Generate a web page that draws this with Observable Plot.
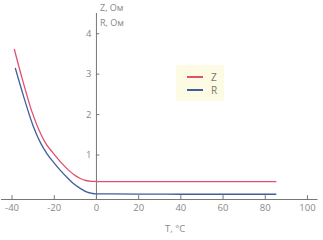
<!DOCTYPE html>
<html>
<head>
<meta charset="utf-8">
<script src="https://cdn.jsdelivr.net/npm/d3@7"></script>
<script src="https://cdn.jsdelivr.net/npm/@observablehq/plot@0.6"></script>
<style>
  html, body { margin: 0; padding: 0; background: #fff; }
  #wrap { position: relative; width: 323px; height: 240px; font-family: "Open Sans", sans-serif; }
  .lg { position: absolute; left: 176px; top: 65px; width: 48px; height: 36px; background: #fdfbe3; }
  .lg .row { position: absolute; left: 11px; height: 10px; display: flex; align-items: center; font-size: 10px; color: #777; }
  .lg .sw { width: 16px; height: 1.5px; margin-right: 8px; }
</style>
</head>
<body>
<div id="wrap"></div>
<script>
// Data
const seriesNames = ["Z", "R"];
const seriesColors = ["#e0506f", "#3f5f9a"];
const tempZ = [-38.9, -35.2, -30.5, -26.5, -24.2, -20.2, -16.5, -13.1, -10, -7.6, -5, -2.5, 0, 3, 20, 40, 60, 85];
const valZ  = [3.61, 2.89, 2.06, 1.53, 1.30, 1.03, 0.80, 0.62, 0.49, 0.42, 0.37, 0.35, 0.345, 0.34, 0.34, 0.34, 0.34, 0.34];
const tempR = [-38.4, -34.7, -30.0, -26.5, -23.4, -20, -17.1, -14, -10.8, -7.5, -4.4, -2, -0.5, 20, 40, 60, 85];
const valR  = [3.14, 2.48, 1.72, 1.30, 1.03, 0.80, 0.62, 0.45, 0.29, 0.17, 0.08, 0.05, 0.04, 0.035, 0.03, 0.03, 0.03];
const xTicks = [-40, -20, 0, 20, 40, 60, 80, 100];
const yTicks = [1, 2, 3, 4];
const yLabel1 = "Z, Ом";
const yLabel2 = "R, Ом";
const xLabel = "T, °C";

const rows = [
  ...tempZ.map((t, i) => ({s: "Z", t, v: valZ[i]})),
  ...tempR.map((t, i) => ({s: "R", t, v: valR[i]}))
];

const axisColor = "#777";
const textColor = "#888";

const chart = Plot.plot({
  width: 323,
  height: 240,
  marginLeft: 1,
  marginRight: 5.5,
  marginTop: 13,
  marginBottom: 41,
  x: {domain: [-45, 105], axis: null},
  y: {domain: [-0.1, 4.5], axis: null},
  color: {domain: seriesNames, range: seriesColors},
  style: {fontFamily: "Open Sans, sans-serif", fontSize: "9px", background: "transparent"},
  marks: [
    Plot.ruleY([-0.1], {x1: -45, x2: 105, stroke: axisColor, strokeWidth: 1}),
    Plot.ruleX([0], {y1: -0.1, y2: 4.5, stroke: axisColor, strokeWidth: 1}),
    Plot.ruleX(xTicks, {y1: -0.1, y2: -0.005, stroke: axisColor}),
    Plot.ruleY(yTicks, {x1: 0, x2: 1.6, stroke: axisColor}),
    Plot.text(xTicks, {x: d => d, y: -0.1, dy: 8, text: d => String(d), fill: textColor, fontSize: 9.5}),
    Plot.text(yTicks, {x: 0, y: d => d, dx: -5, textAnchor: "end", text: d => String(d), fill: textColor, fontSize: 9.5}),
    Plot.line(rows, {x: "t", y: "v", z: "s", stroke: "s", strokeWidth: 1.3, curve: "monotone-x"})
  ]
});

const wrap = document.getElementById("wrap");
wrap.appendChild(chart);

function addText(str, left, top, size) {
  const d = document.createElement("div");
  d.textContent = str;
  d.style.cssText = `position:absolute;left:${left}px;top:${top}px;font-size:${size}px;color:${textColor};line-height:1;white-space:nowrap;`;
  wrap.appendChild(d);
}
addText(yLabel1, 100, 3, 9);
addText(yLabel2, 100, 18, 9);
addText(xLabel, 165, 224, 9.5);

const lg = document.createElement("div");
lg.className = "lg";
seriesNames.forEach((n, i) => {
  const r = document.createElement("div");
  r.className = "row";
  r.style.top = (7 + i * 13) + "px";
  const sw = document.createElement("div");
  sw.className = "sw";
  sw.style.background = seriesColors[i];
  const tx = document.createElement("span");
  tx.textContent = n;
  r.appendChild(sw);
  r.appendChild(tx);
  lg.appendChild(r);
});
wrap.appendChild(lg);
</script>
</body>
</html>
